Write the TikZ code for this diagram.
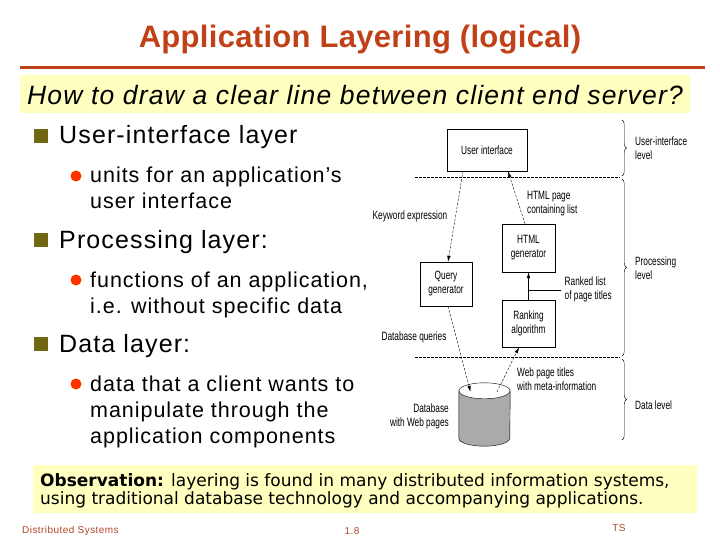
\documentclass[tikz,border=0pt]{standalone}
\usepackage{fontspec}
\setmainfont{Liberation Sans}[LetterSpace=4.5]
\newfontfamily\titlefont{Liberation Sans}[LetterSpace=1]
\newfontfamily\figfont{Liberation Sans}[FakeStretch=0.69]
\newfontfamily\obsfont{DejaVu Sans}
\usetikzlibrary{arrows.meta,decorations.pathreplacing}
\definecolor{titlered}{RGB}{192,64,24}
\definecolor{footred}{RGB}{176,72,40}
\definecolor{olivebox}{RGB}{112,104,16}
\definecolor{dotred}{RGB}{255,51,0}
\definecolor{lightyellow}{RGB}{255,255,192}
\definecolor{dbgray}{RGB}{170,170,170}
\begin{document}
\begin{tikzpicture}[x=1pt, y=-1pt,
	sq/.style={fill=olivebox, minimum size=14pt, inner sep=0pt},
	dot/.style={circle, fill=dotred, minimum size=11pt, inner sep=0pt},
	item/.style={anchor=base west, inner sep=0pt, align=left},
	subfont/.style={font=\fontsize{21.5}{26}\selectfont},
	box/.style={draw, thin, fill=white, align=center, inner sep=1pt,
		font=\figfont\fontsize{12}{14}\selectfont},
	lbl/.style={inner sep=0pt, font=\figfont\fontsize{12}{14}\selectfont},
	flow/.style={thin, -{Latex[length=6pt,width=3.5pt]}},
	dflow/.style={flow, dash pattern=on 2.5pt off 1.5pt},
	level/.style={thin, dash pattern=on 2.5pt off 1.5pt},
	lvlbrace/.style={thin, decorate, decoration={brace, amplitude=4.5pt}}]
	\useasboundingbox (0,0) rectangle (720,540);
	%title
	\node[titlered, font=\titlefont\bfseries\fontsize{31}{36}\selectfont] (title) at (360,40) {Application Layering (logical)};
	\draw[titlered, line width=3pt] (20,68) -- (705,68);
	\node[fill=lightyellow, minimum width=670pt, minimum height=38pt, inner sep=0pt, anchor=north west] (qbox) at (20,75) {};
	\node[anchor=west, inner sep=0pt, font=\itshape\fontsize{26.5}{30}\selectfont] (question) at (27,95) {How to draw a clear line between client end server?};
	%bullets
	\foreach \i/\y/\ytext in {
		1/136/User-interface layer,
		2/240/Processing layer:,
		3/344/Data layer:
	}{
		\node[sq] (sq\i) at (41,\y) {};
		\node[item, font=\fontsize{25}{30}\selectfont] (head\i) at (59,\y+8) {\ytext};
	}
	\foreach \i/\y in {1/176, 2/280, 3/384}
		\node[dot] (dot\i) at (76,\y) {};
	% base = last line
	\node[item, subfont] (sub1) at (90,209) {units for an application’s\\user interface};
	\node[item, subfont] (sub2) at (90,313) {functions of an application,\\i.e. without specific data};
	\node[item, subfont] (sub3) at (90,443) {data that a client wants to\\manipulate through the\\application components};
	%levels
	\draw[level] (415,177) -- (620,177);
	\draw[level] (415,357) -- (620,357);
	\draw[lvlbrace] (622,120) -- (622,176);
	\draw[lvlbrace] (622,179) -- (622,356);
	\draw[lvlbrace] (622,359) -- (622,440);
	\node[lbl, anchor=west, align=left] (uilevel) at (635,148) {User-interface\\level};
	\node[lbl, anchor=west, align=left] (proclevel) at (635,268) {Processing\\level};
	\node[lbl, anchor=west] (datalevel) at (635,405) {Data level};
	%components
	\node[box, minimum width=80pt, minimum height=42pt] (ui) at (487,150) {User interface};
	\node[box, minimum width=53pt, minimum height=48pt] (html) at (528.5,248) {HTML\\generator};
	\node[box, minimum width=52pt, minimum height=44pt] (query) at (446,284) {Query\\generator};
	\node[box, minimum width=53pt, minimum height=47pt] (rank) at (528.5,323.5) {Ranking\\algorithm};
	%database
	\node[minimum width=51pt, minimum height=63pt, inner sep=0pt] (db) at (484.5,414.5) {};
	\draw[thin, fill=dbgray] ([yshift=-8pt]db.north west) -- ([yshift=8pt]db.south west)
		arc[start angle=180, end angle=360, x radius=25.5pt, y radius=8pt]
		-- ([yshift=-8pt]db.north east) -- cycle;
	\draw[thin, fill=white] ([yshift=-8pt]db.north) ellipse[x radius=25.5pt, y radius=8pt];
	%flows
	\draw[dflow] ([xshift=-24pt]ui.south) -- ([xshift=2pt]query.north);
	\draw[dflow] ([xshift=-3.5pt]html.north) -- ([xshift=21pt]ui.south);
	\draw[flow] (rank.north) -- coordinate[pos=0.36] (rk) (html.south);
	\draw[thin] (rk) -- ++(32,0) coordinate (rkend);
	\draw[dflow] ([xshift=2pt]query.south) -- ([xshift=-14pt,yshift=-9pt]db.north);
	\draw[dflow] ([xshift=12.5pt,yshift=-9pt]db.north) -- ([xshift=-9.5pt]rank.south);
	%labels
	\node[lbl] (kw) at (410,216) {Keyword expression};
	\node[lbl, anchor=west, align=left] (htmlpage) at (527,204) {HTML page\\containing list};
	\node[lbl, anchor=west, align=left] (ranked) at ([xshift=4pt]rkend) {Ranked list\\of page titles};
	\node[lbl] (dbq) at (414,337) {Database queries};
	\node[lbl, anchor=west, align=left] (titles) at (517,379) {Web page titles\\with meta-information};
	\node[lbl, anchor=east, align=right] (dbname) at (449,416) {Database\\with Web pages};
	%observation
	\node[fill=lightyellow, minimum width=664pt, minimum height=48pt, inner sep=0pt, anchor=north west] (obsbox) at (33,465) {};
	\node[anchor=west, align=left, inner sep=0pt, font=\obsfont\fontsize{17}{18.5}\selectfont] (obs) at (40,491)
	{\textbf{Observation:} layering is found in many distributed information systems,\\
		using traditional database technology and accompanying applications.};
	%footer
	\node[footred, anchor=west, inner sep=0pt, font=\fontsize{10}{12}\selectfont] (course) at (22,531) {Distributed Systems};
	\node[footred, inner sep=0pt, font=\fontsize{10}{12}\selectfont] (page) at (352,531) {1.8};
	\node[footred, inner sep=0pt, font=\fontsize{10}{12}\selectfont] (author) at (619,528) {TS};
\end{tikzpicture}
\end{document}
